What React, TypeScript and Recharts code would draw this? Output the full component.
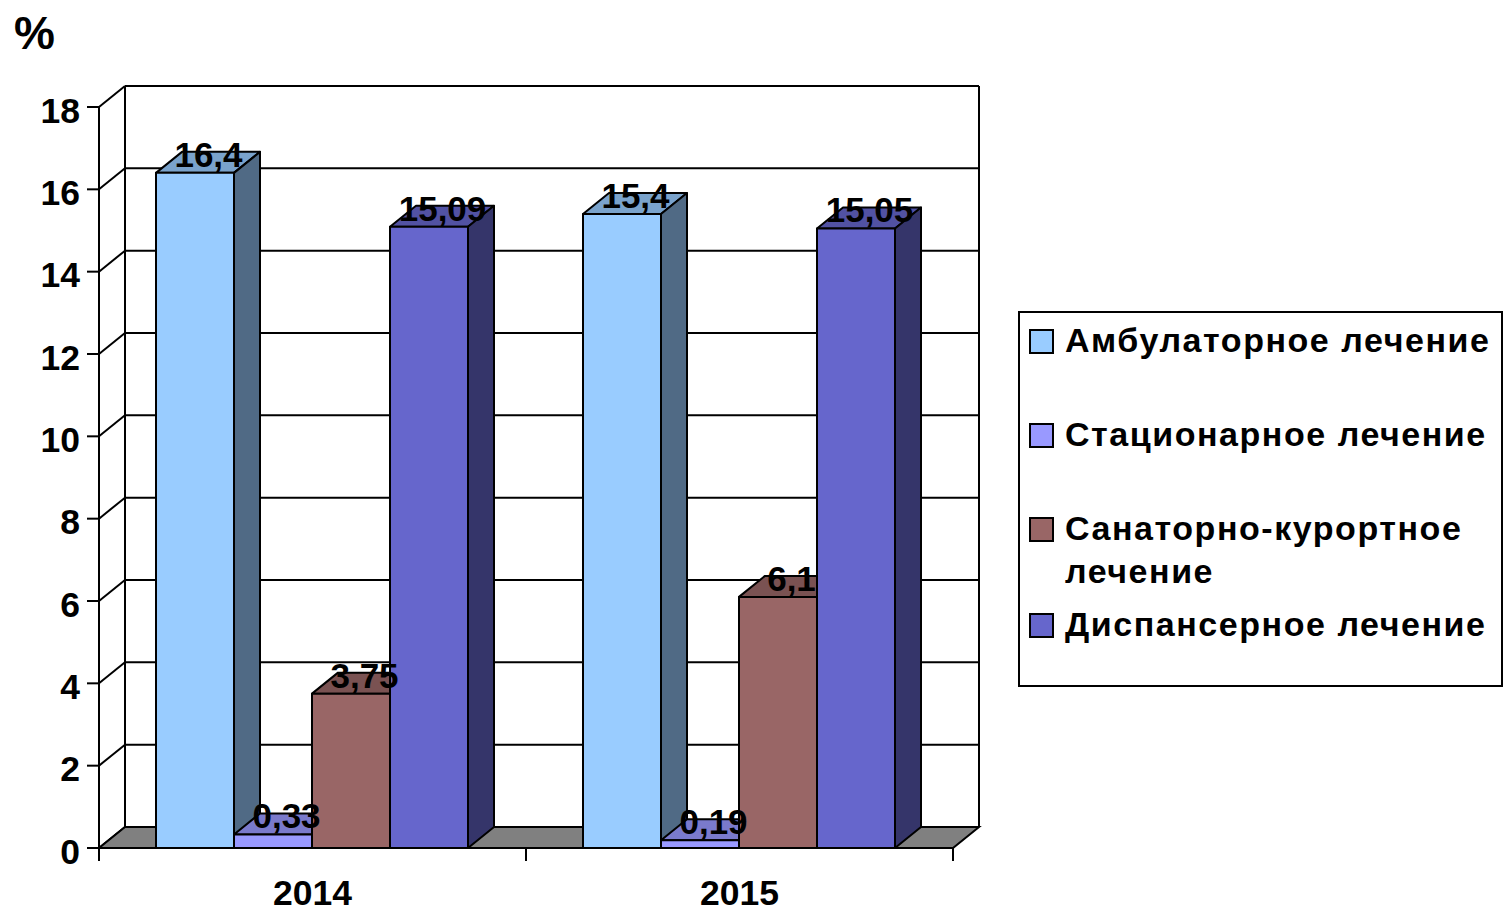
import React from "react";
import { BarChart, Bar, XAxis, YAxis, CartesianGrid, Legend, LabelList, ReferenceArea } from "recharts";

const years = ["2014", "2015"];
const seriesNames = ["Амбулаторное лечение", "Стационарное лечение", "Санаторно-курортное лечение", "Диспансерное лечение"];
const ambulatory = [16.4, 15.4];
const inpatient = [0.33, 0.19];
const sanatorium = [3.75, 6.1];
const dispensary = [15.09, 15.05];
const seriesValues = [ambulatory, inpatient, sanatorium, dispensary];
const seriesColors = ["#99CCFF", "#9999FF", "#996666", "#6666CC"];
const yTicks = [0, 2, 4, 6, 8, 10, 12, 14, 16, 18];

const rows = years.map((year, i) => {
  const row: Record<string, string | number> = { year };
  seriesNames.forEach((n, s) => { row[n] = seriesValues[s][i]; });
  return row;
});

const DX = 26;
const DY = 21;
const FONT = '"Liberation Sans", Arial, sans-serif';
const LINE = { stroke: "#000", strokeWidth: 2 };

function shade(hex: string, k: number) {
  const n = parseInt(hex.slice(1), 16);
  const c = [(n >> 16) & 255, (n >> 8) & 255, n & 255].map((v) => Math.round(v * k));
  return `rgb(${c[0]},${c[1]},${c[2]})`;
}

function Bar3D(props: any) {
  const { y, width, height, fill } = props;
  const x = props.x - 1;
  const r = x + width;
  const b = y + height;
  return (
    <g strokeLinejoin="round" {...LINE}>
      <polygon points={`${x},${y} ${x + DX},${y - DY} ${r + DX},${y - DY} ${r},${y}`} fill={shade(fill, 0.8)} />
      <polygon points={`${r},${y} ${r + DX},${y - DY} ${r + DX},${b - DY} ${r},${b}`} fill={shade(fill, 0.52)} />
      <rect x={x} y={y} width={width} height={height} fill={fill} />
    </g>
  );
}

function GridLine(props: any) {
  const { x1, x2, y1 } = props;
  return (
    <g {...LINE} fill="none">
      <line x1={x1} y1={y1} x2={x1 + DX} y2={y1 - DY} />
      <line x1={x1 + DX} y1={y1 - DY} x2={x2 + DX} y2={y1 - DY} />
    </g>
  );
}

function Frame(props: any) {
  const { x, y, width, height } = props;
  const r = x + width;
  const b = y + height;
  const step = width / years.length;
  return (
    <g>
      <polygon points={`${x},${b} ${x + DX},${b - DY} ${r + DX},${b - DY} ${r},${b}`} fill="#808080" {...LINE} />
      <line x1={x + DX} y1={y - DY} x2={x + DX} y2={b - DY} {...LINE} />
      <line x1={r + DX} y1={y - DY} x2={r + DX} y2={b - DY} {...LINE} />
      {[0, ...years.map((_, i) => i + 1)].map((i) => (
        <line key={i} x1={x + step * i} y1={b} x2={x + step * i} y2={b + 13} {...LINE} />
      ))}
      <text x={14} y={49} fontFamily={FONT} fontWeight={700} fontSize={46} fill="#000">%</text>
    </g>
  );
}

function ValueLabel(props: any) {
  const { x, y, width, value } = props;
  return (
    <text x={x + width / 2 + 12.5} y={y - 6} textAnchor="middle" fontFamily={FONT} fontWeight={700} fontSize={35} fill="#000">
      {String(value).replace(".", ",")}
    </text>
  );
}

function LegendBox() {
  return (
    <div style={{ boxSizing: "border-box", width: 485, height: 376, border: "2px solid #000", background: "#fff", padding: "6px 0 0 10px", fontFamily: FONT, fontWeight: 700, fontSize: 34, lineHeight: "43px", letterSpacing: 1.55, textAlign: "left", color: "#000" }}>
      {seriesNames.map((name, i) => (
        <div key={name} style={{ position: "relative", paddingLeft: 35, marginBottom: i === 2 ? 10 : 51, width: 435 }}>
          <span style={{ position: "absolute", left: -1, top: 10, width: 21, height: 21, border: "2px solid #000", background: seriesColors[i] }} />
          {name}
        </div>
      ))}
    </div>
  );
}

export default function App() {
  const yTickStyle = { fontFamily: FONT, fontWeight: 700, fontSize: 35.5, fill: "#000", dy: 3 };
  const xTickStyle = { fontFamily: FONT, fontWeight: 700, fontSize: 35.5, fill: "#000" };
  return (
    <div style={{ position: "absolute", left: 0, top: 0 }}>
      <BarChart width={1503} height={912} data={rows} margin={{ top: 107, right: 550, left: 0, bottom: 0 }} barGap={0} barSize={78}>
        <ReferenceArea x1={years[0]} x2={years[1]} y1={0} y2={18} shape={Frame} ifOverflow="visible" />
        <CartesianGrid horizontal={GridLine} vertical={false} />
        <XAxis dataKey="year" height={64} tickLine={false} tickSize={0} tickMargin={32} tick={xTickStyle} axisLine={LINE} />
        <YAxis width={99} domain={[0, 18]} ticks={yTicks} interval={0} tickSize={12} tickMargin={7} tick={yTickStyle} tickLine={LINE} axisLine={LINE} />
        <Legend layout="vertical" align="center" verticalAlign="middle" content={LegendBox} wrapperStyle={{ left: 1018, top: 311, width: 485 }} />
        {seriesNames.map((name, i) => (
          <Bar key={name} dataKey={name} fill={seriesColors[i]} shape={Bar3D} isAnimationActive={false}>
            <LabelList dataKey={name} content={ValueLabel} />
          </Bar>
        ))}
      </BarChart>
    </div>
  );
}
